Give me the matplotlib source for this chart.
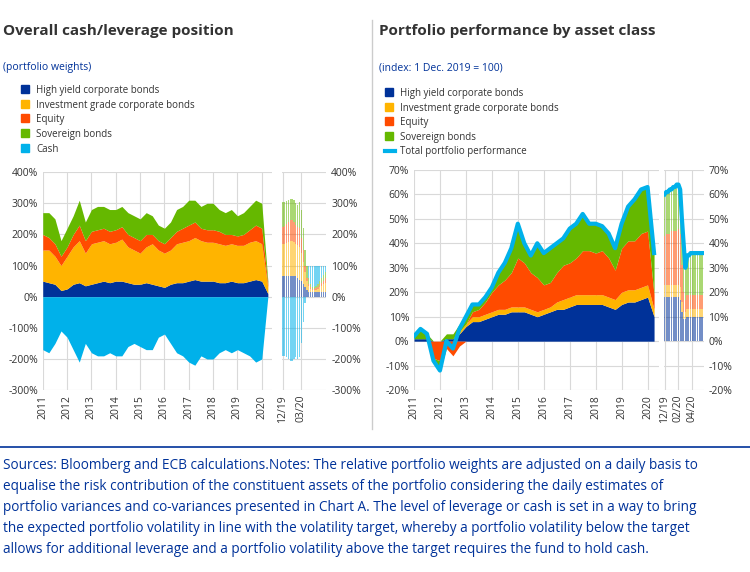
import numpy as np
import matplotlib
matplotlib.use("Agg")
import matplotlib.pyplot as plt
from matplotlib.patches import Rectangle
from matplotlib.lines import Line2D

plt.rcParams['font.family'] = ['Open Sans', 'DejaVu Sans']

C_HY = '#003299'; C_IG = '#FFB400'; C_EQ = '#FF4B00'; C_SOV = '#65B800'; C_CASH = '#00B1EA'
TXT = '#333333'; BLUE = '#003299'

# ---------- Left chart: portfolio weights (quarterly 2011Q1 .. 2020Q2) ----------
t_left = 2011 + np.arange(38) * 0.25
hy_l = [50,45,40,20,25,40,45,35,40,45,50,45,50,50,45,40,40,45,40,35,30,40,45,45,50,55,50,50,50,45,45,50,45,45,50,55,50,10]
ig_top_l = [150,150,130,100,130,160,180,140,170,175,180,170,175,185,160,150,140,160,170,150,140,150,170,175,180,190,180,175,175,170,165,170,165,165,175,180,170,30]
eq_top_l = [200,190,170,130,160,200,230,180,210,215,220,210,215,225,200,190,180,200,200,180,170,190,210,220,230,240,220,215,215,210,200,200,195,200,215,230,220,40]
sov_top_l = [270,270,250,180,220,260,310,240,280,290,290,280,280,290,270,260,250,270,260,230,220,240,280,290,310,310,290,300,300,280,270,280,260,270,290,310,300,50]
cash_l = [-170,-180,-150,-110,-130,-170,-210,-150,-180,-190,-190,-180,-190,-190,-160,-150,-160,-170,-170,-130,-120,-150,-180,-190,-210,-220,-190,-200,-200,-180,-170,-180,-170,-180,-190,-210,-200,50]

# inset: weekly Dec 2019 .. May 2020
n_li = 24
hy_li = [65,65,65,65,65,65,65,65,60,55,50,40,30,20,15,15,15,15,15,15,15,15,15,15]
ig_top_li = [170,170,172,175,178,178,175,170,165,160,140,110,80,50,35,25,20,20,22,25,30,35,40,45]
eq_top_li = [225,228,232,240,245,245,240,230,225,220,190,150,100,60,40,30,25,25,28,32,38,45,52,60]
sov_top_li = [305,305,308,312,315,315,310,300,295,305,280,220,150,100,60,40,30,30,35,40,50,60,70,80]
cash_li = [-190,-190,-195,-200,-205,-205,-200,-195,-200,-195,-150,-80,-20,0,40,60,70,70,65,60,50,40,30,20]

# ---------- Right chart: performance (quarterly 2011Q1 .. 2020Q2) ----------
t_right = 2011 + np.arange(38) * 0.25
total_r = [2,5,3,-8,-12,0,-3,5,10,15,15,18,22,28,32,38,48,40,35,40,36,38,40,42,46,48,52,48,48,47,44,38,48,55,58,62,63,36]
hy_r = [1,1,1,0,0,1,1,3,6,8,8,9,10,11,11,12,12,12,11,10,11,12,13,13,14,15,15,15,15,15,14,13,15,16,16,17,18,10]
ig_r = [0,0,0,0,0,0,0,1,1,2,2,2,2,2,2,2,2,2,2,2,2,2,3,4,4,4,4,4,4,4,4,4,5,5,5,5,5,3]
eq_r = [0,0,0,-7,-8,-3,-6,-2,0,2,3,5,8,10,12,14,20,18,15,14,10,10,12,14,14,15,18,18,17,18,16,12,18,20,20,22,22,6]
sov_r = [1,4,2,-1,-4,2,2,3,3,3,2,2,2,5,7,10,14,8,7,14,13,14,12,11,14,14,15,11,12,10,10,9,10,14,17,18,18,17]

n_ri = 23
total_ri = [60,61,61,62,62,63,63,64,64,62,50,40,30,35,35,36,36,36,36,36,36,36,36]
hy_ri = [18,18,18,18,18,18,18,18,18,17,12,9,9,10,10,10,10,10,10,10,10,10,10]
ig_ri = [5,5,5,5,5,5,5,5,5,5,4,3,3,3,3,3,3,3,3,3,3,3,3]
eq_ri = [20,21,21,21,22,22,22,22,23,22,15,8,5,6,6,6,6,6,6,6,6,6,6]
sov_ri = [t - a - b - c for t, a, b, c in zip(total_ri, hy_ri, ig_ri, eq_ri)]

left_years = list(range(2011, 2021))

fig = plt.figure(figsize=(7.5, 5.72), dpi=100)

def style(ax, ylim, yticks, right=False):
    ax.set_ylim(*ylim)
    ax.set_yticks(yticks)
    ax.set_yticklabels([f"{v}%" for v in yticks], fontsize=7.5, color=TXT)
    ax.grid(True, color='#d9d9d9', lw=0.8)
    ax.set_axisbelow(True)
    for s in ax.spines.values():
        s.set_visible(False)
    ax.tick_params(length=0, colors=TXT, labelsize=7.5)
    if right:
        ax.yaxis.tick_right()

def stack_signed(ax, x, series, colors, bars=False, width=None, alpha=1.0):
    pos = np.zeros(len(x)); neg = np.zeros(len(x))
    for s, c in zip(series, colors):
        s = np.asarray(s, float)
        p = np.where(s > 0, s, 0); n = np.where(s < 0, s, 0)
        if bars:
            ax.bar(x, p, bottom=pos, width=width, color=c, alpha=alpha, lw=0)
            ax.bar(x, n, bottom=neg, width=width, color=c, alpha=alpha, lw=0)
        else:
            ax.fill_between(x, pos, pos + p, color=c, lw=0)
            ax.fill_between(x, neg, neg + n, color=c, lw=0)
        pos += p; neg += n

# Left main
axL = fig.add_axes([0.057, 0.318, 0.305, 0.381])
hy = np.array(hy_l, float); igt = np.array(ig_top_l, float); eqt = np.array(eq_top_l, float); svt = np.array(sov_top_l, float)
stack_signed(axL, t_left, [hy, igt - hy, eqt - igt, svt - eqt, np.minimum(cash_l, 0)], [C_HY, C_IG, C_EQ, C_SOV, C_CASH])
axL.set_xlim(2011, 2020.4)
axL.set_xticks(left_years)
axL.set_xticklabels([str(y) for y in left_years], rotation=90)
style(axL, (-300, 400), list(range(-300, 401, 100)))

# Left inset
axLi = fig.add_axes([0.376, 0.318, 0.059, 0.381])
xi = np.arange(n_li)
hyi = np.array(hy_li, float); igti = np.array(ig_top_li, float); eqti = np.array(eq_top_li, float); svti = np.array(sov_top_li, float)
stack_signed(axLi, xi, [hyi, igti - hyi, eqti - igti, svti - eqti, np.minimum(cash_li, 0)],
             [C_HY, C_IG, C_EQ, C_SOV, C_CASH], bars=True, width=0.7, alpha=0.55)
cp = np.maximum(cash_li, 0)
axLi.bar(xi, cp, bottom=svti, width=0.7, color=C_CASH, alpha=0.55, lw=0)
axLi.set_xlim(-0.5, n_li - 0.5)
axLi.set_xticks([0, 10])
axLi.set_xticklabels(['12/19', '03/20'], rotation=90)
style(axLi, (-300, 400), list(range(-300, 401, 100)), right=True)

# Right main
axR = fig.add_axes([0.552, 0.318, 0.327, 0.385])
stack_signed(axR, t_right, [hy_r, ig_r, eq_r, sov_r], [C_HY, C_IG, C_EQ, C_SOV])
axR.plot(t_right, total_r, color=C_CASH, lw=3)
axR.set_xlim(2011, 2020.45)
axR.set_xticks(left_years)
axR.set_xticklabels([str(y) for y in left_years], rotation=90)
style(axR, (-20, 70), list(range(-20, 71, 10)))

# Right inset
axRi = fig.add_axes([0.885, 0.318, 0.053, 0.385])
xr = np.arange(n_ri)
stack_signed(axRi, xr, [hy_ri, ig_ri, eq_ri, sov_ri], [C_HY, C_IG, C_EQ, C_SOV], bars=True, width=0.7, alpha=0.55)
axRi.plot(xr, total_ri, color=C_CASH, lw=3)
axRi.set_xlim(-0.5, n_ri - 0.5)
axRi.set_xticks([0, 8, 16])
axRi.set_xticklabels(['12/19', '02/20', '04/20'], rotation=90)
style(axRi, (-20, 70), list(range(-20, 71, 10)), right=True)

# Titles
fig.text(0.004, 0.938, 'Overall cash/leverage position', fontsize=11, fontweight='bold', color=TXT)
fig.text(0.505, 0.938, 'Portfolio performance by asset class', fontsize=11, fontweight='bold', color=TXT)
fig.text(0.004, 0.877, '(portfolio weights)', fontsize=7.5, color=BLUE)
fig.text(0.505, 0.877, '(index: 1 Dec. 2019 = 100)', fontsize=7.5, color=BLUE)
fig.add_artist(Line2D([0.496, 0.496], [0.25, 0.965], color='#cccccc', lw=1))
fig.add_artist(Line2D([0.0, 1.0], [0.218, 0.218], color=BLUE, lw=1.2))

def legend(x, y, items):
    for i, (lab, c, kind) in enumerate(items):
        yy = y - i * 0.0255
        if kind == 'line':
            fig.add_artist(Line2D([x, x + 0.013], [yy + 0.006, yy + 0.006], color=c, lw=3))
        else:
            fig.add_artist(Rectangle((x, yy), 0.011, 0.014, color=c))
        fig.text(x + 0.02, yy, lab, fontsize=7, color=TXT)

legend(0.028, 0.837, [('High yield corporate bonds', C_HY, 'box'), ('Investment grade corporate bonds', C_IG, 'box'),
                      ('Equity', C_EQ, 'box'), ('Sovereign bonds', C_SOV, 'box'), ('Cash', C_CASH, 'box')])
legend(0.513, 0.832, [('High yield corporate bonds', C_HY, 'box'), ('Investment grade corporate bonds', C_IG, 'box'),
                      ('Equity', C_EQ, 'box'), ('Sovereign bonds', C_SOV, 'box'), ('Total portfolio performance', C_CASH, 'line')])

note = ("Sources: Bloomberg and ECB calculations.Notes: The relative portfolio weights are adjusted on a daily basis to\n"
        "equalise the risk contribution of the constituent assets of the portfolio considering the daily estimates of\n"
        "portfolio variances and co-variances presented in Chart A. The level of leverage or cash is set in a way to bring\n"
        "the expected portfolio volatility in line with the volatility target, whereby a portfolio volatility below the target\n"
        "allows for additional leverage and a portfolio volatility above the target requires the fund to hold cash.")
fig.text(0.004, 0.200, note, fontsize=9.8, color=BLUE, linespacing=1.55, va='top')

fig.savefig('out.png', dpi=100)
